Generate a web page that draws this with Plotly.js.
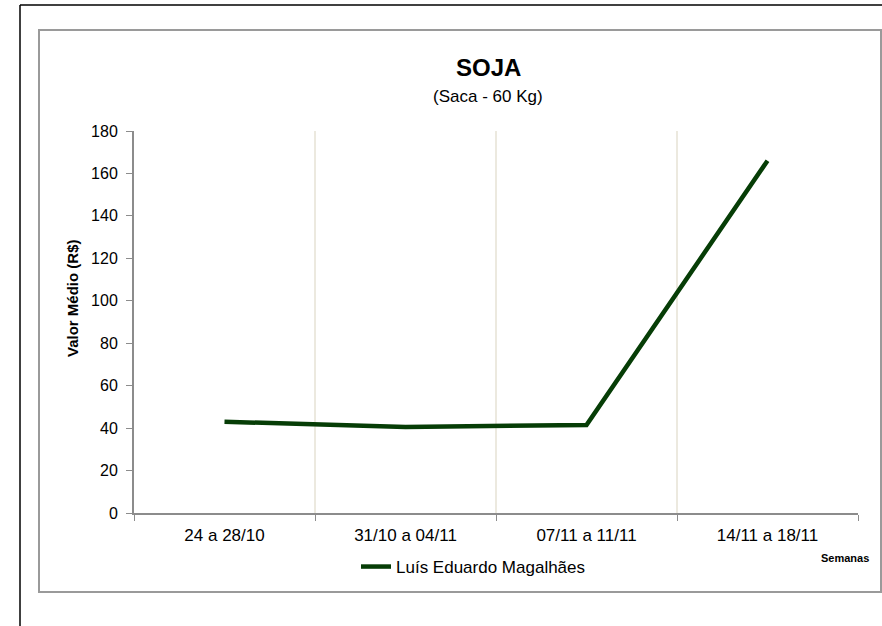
<!DOCTYPE html>
<html>
<head>
<meta charset="utf-8">
<script src="https://cdn.plot.ly/plotly-3.0.1.min.js"></script>
<style>html,body{margin:0;padding:0;background:#fff;}#chart{width:882px;height:626px;}</style>
</head>
<body>
<div id="chart"></div>
<script>
const weeks = ["24 a 28/10", "31/10 a 04/11", "07/11 a 11/11", "14/11 a 18/11"];
const luisEduardo = [43, 40.5, 41.5, 166];
const seriesName = "Luís Eduardo Magalhães";
const yTicks = [0, 20, 40, 60, 80, 100, 120, 140, 160, 180];

const FONT = "Liberation Sans, Arial, sans-serif";
// plot area in px: x 134..858, y 131..513
const L = 134, R = 858, T = 131, B = 513;
const px = v => (v - L) / (R - L);
const py = v => (B - v) / (B - T);

const trace = {
  x: weeks, y: luisEduardo, type: "scatter", mode: "lines", name: seriesName,
  line: {color: "#063d06", width: 4.5}
};

const layout = {
  width: 882, height: 626,
  margin: {l: L, r: 882 - R, t: T, b: 626 - B},
  paper_bgcolor: "#fff", plot_bgcolor: "#fff",
  font: {family: FONT, color: "#000"},
  showlegend: true,
  legend: {orientation: "h", x: px(356), y: py(567), xanchor: "left", yanchor: "middle",
           font: {size: 17, family: FONT, color: "#000"}, bgcolor: "rgba(0,0,0,0)"},
  xaxis: {
    type: "category", range: [-0.5, 3.5], tickson: "boundaries", showgrid: true, gridcolor: "#ece9df", gridwidth: 1.5,
    showline: true, linecolor: "#8c8c8c", linewidth: 2, ticks: "outside", ticklen: 6,
    tickcolor: "#8c8c8c", tickwidth: 1, tickfont: {size: 17, family: FONT, color: "#000"},
    ticklabelstandoff: 6, zeroline: false, fixedrange: true
  },
  yaxis: {
    range: [0, 180], tickvals: yTicks, showgrid: false, zeroline: false,
    showline: true, linecolor: "#8c8c8c", linewidth: 2, ticks: "outside", ticklen: 6,
    tickcolor: "#8c8c8c", tickwidth: 1, tickfont: {size: 16, family: FONT, color: "#000"},
    ticklabelstandoff: 5, fixedrange: true
  },
  shapes: [
    {type: "rect", xref: "paper", yref: "paper", x0: px(39), x1: px(881), y0: py(592), y1: py(30),
     line: {color: "#9a9a9a", width: 2}, layer: "below"},
    {type: "line", xref: "paper", yref: "paper", x0: px(20), x1: px(883), y0: py(5), y1: py(5),
     line: {color: "#000", width: 1.5}},
    {type: "line", xref: "paper", yref: "paper", x0: px(20), x1: px(20), y0: py(5), y1: py(627),
     line: {color: "#000", width: 1.5}}
  ],
  annotations: [
    {text: "<b>SOJA</b>", xref: "paper", yref: "paper", x: px(488), y: py(67), showarrow: false,
     xanchor: "center", yanchor: "middle", font: {size: 24, family: FONT, color: "#000"}},
    {text: "(Saca - 60 Kg)", xref: "paper", yref: "paper", x: px(488), y: py(97), showarrow: false,
     xanchor: "center", yanchor: "middle", font: {size: 17, family: FONT, color: "#000"}},
    {text: "<b>Valor Médio (R$)</b>", xref: "paper", yref: "paper", x: px(72), y: py(298), showarrow: false,
     textangle: -90, xanchor: "center", yanchor: "middle", font: {size: 15, family: FONT, color: "#000"}},
    {text: "<b>Semanas</b>", xref: "paper", yref: "paper", x: px(871), y: py(558), showarrow: false,
     xanchor: "right", yanchor: "middle", font: {size: 11, family: FONT, color: "#000"}}
  ]
};

Plotly.newPlot("chart", [trace], layout, {displayModeBar: false, staticPlot: true});
</script>
</body>
</html>
